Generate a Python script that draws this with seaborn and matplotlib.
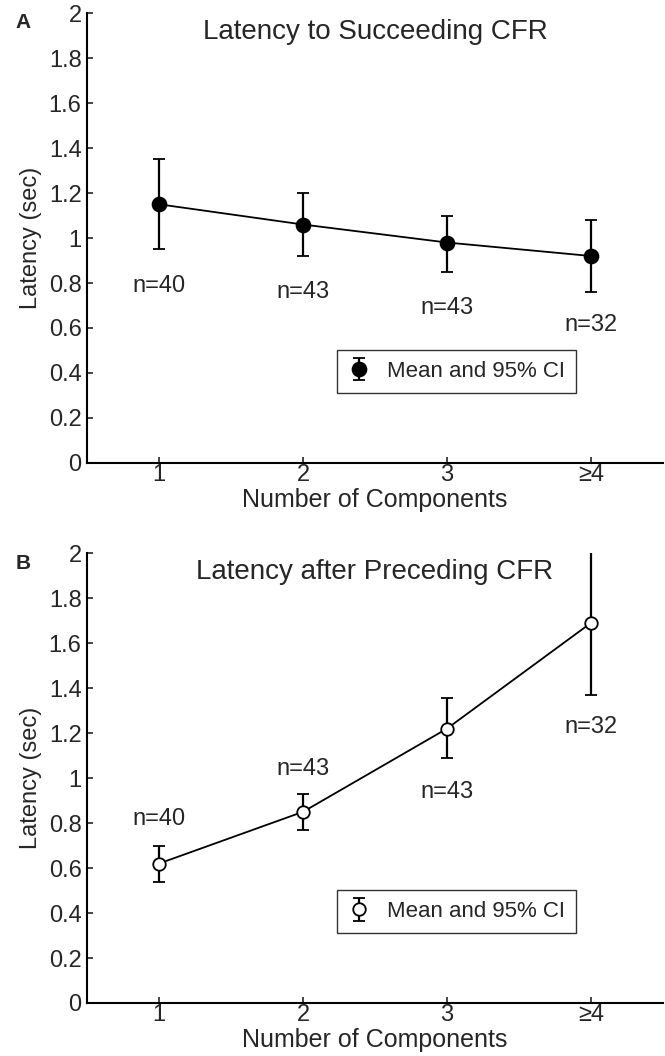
import numpy as np
import pandas as pd
import matplotlib
matplotlib.use("Agg")
import matplotlib.pyplot as plt
import seaborn as sns

# Values
components = [1, 2, 3, 4]
tick_labels = ["1", "2", "3", "\u22654"]
n_labels = ["n=40", "n=43", "n=43", "n=32"]

# Panel A: latency to succeeding CFR
mean_a = [1.15, 1.06, 0.98, 0.92]
low_a = [0.95, 0.92, 0.85, 0.76]
high_a = [1.35, 1.20, 1.10, 1.08]
n_y_a = [0.785, 0.76, 0.69, 0.615]

# Panel B: latency after preceding CFR
mean_b = [0.62, 0.85, 1.22, 1.69]
low_b = [0.54, 0.77, 1.09, 1.37]
high_b = [0.70, 0.93, 1.355, 2.05]
n_y_b = [0.82, 1.04, 0.94, 1.225]

sns.set_style("white")
plt.rcParams["font.family"] = ["Liberation Sans", "DejaVu Sans"]

fig = plt.figure(figsize=(6.65, 10.56), dpi=100)
ax_a = fig.add_axes([0.131, 0.5616, 0.866, 0.426])
ax_b = fig.add_axes([0.131, 0.0502, 0.866, 0.426])


def draw_panel(ax, mean, low, high, n_y, title, letter, filled):
    df = pd.DataFrame({"comp": components, "mean": mean})
    sns.lineplot(data=df, x="comp", y="mean", ax=ax, color="black",
                 linewidth=1.3, zorder=2)
    yerr = [np.array(mean) - np.array(low), np.array(high) - np.array(mean)]
    ax.errorbar(components, mean, yerr=yerr, fmt="o", linestyle="none",
                color="black", ecolor="black", elinewidth=1.6, capsize=4,
                capthick=1.6, markersize=10 if filled else 9,
                markerfacecolor="black" if filled else "white",
                markeredgecolor="black", markeredgewidth=1.3,
                label="Mean and 95% CI", zorder=3)
    for x, y, t in zip(components, n_y, n_labels):
        ax.text(x, y, t, ha="center", va="center", fontsize=17)
    ax.set_xlim(0.5, 4.5)
    ax.set_ylim(0, 2)
    ax.set_xticks(components)
    ax.set_xticklabels(tick_labels)
    ax.set_yticks(np.arange(0, 2.01, 0.2))
    ax.set_yticklabels(["0", "0.2", "0.4", "0.6", "0.8", "1", "1.2",
                        "1.4", "1.6", "1.8", "2"])
    ax.tick_params(direction="in", length=4, width=1.2, labelsize=17,
                   left=True, bottom=True)
    ax.tick_params(axis="x", pad=1)
    ax.tick_params(axis="y", pad=4)
    ax.set_xlabel("Number of Components", fontsize=18, labelpad=1)
    ax.set_ylabel("Latency (sec)", fontsize=17, labelpad=5)
    for s in ["top", "right"]:
        ax.spines[s].set_visible(False)
    for s in ["left", "bottom"]:
        ax.spines[s].set_color("black")
        ax.spines[s].set_linewidth(1.5)
    ax.text(0.5, 0.958, title, transform=ax.transAxes, ha="center",
            va="center", fontsize=20)
    ax.text(-0.125, 0.978, letter, transform=ax.transAxes, ha="left",
            va="center", fontsize=15, fontweight="bold")
    leg = ax.legend(loc="upper left", bbox_to_anchor=(0.434, 0.251),
                    fontsize=16, frameon=True, fancybox=False,
                    handlelength=1.0, handletextpad=0.75, borderpad=0.5,
                    borderaxespad=0)
    leg.get_frame().set_edgecolor("black")
    leg.get_frame().set_linewidth(1.0)


draw_panel(ax_a, mean_a, low_a, high_a, n_y_a,
           "Latency to Succeeding CFR", "A", True)
draw_panel(ax_b, mean_b, low_b, high_b, n_y_b,
           "Latency after Preceding CFR", "B", False)

fig.savefig("out.png", dpi=100)
